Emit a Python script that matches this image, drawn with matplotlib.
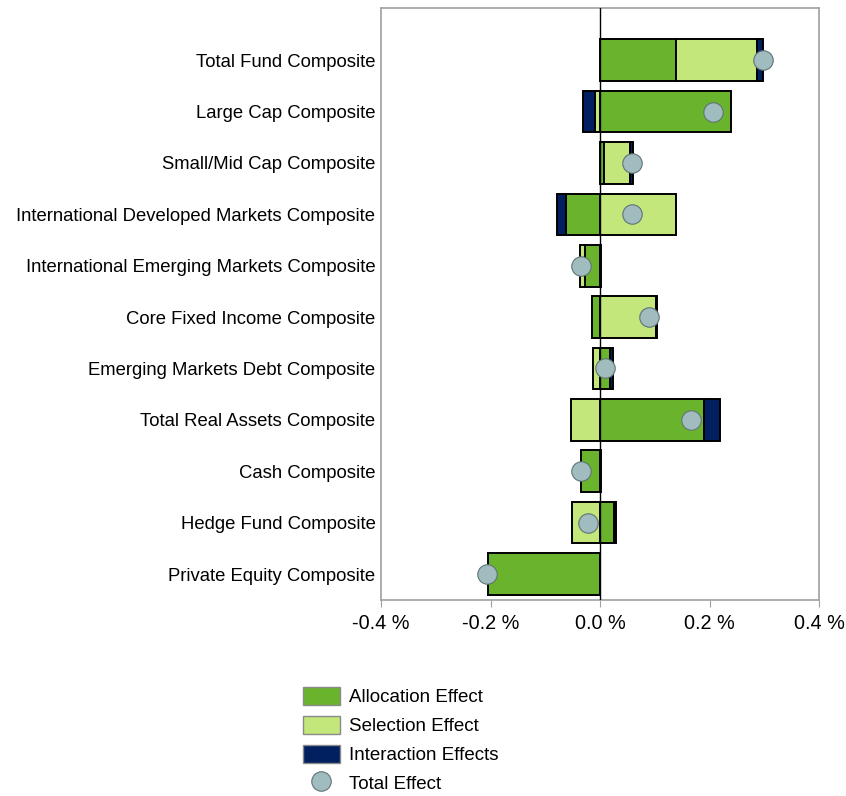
import matplotlib.pyplot as plt
import numpy as np

plt.rcParams['font.family'] = ['Liberation Sans', 'DejaVu Sans']

kategorie = ['Total Fund Composite', 'Large Cap Composite', 'Small/Mid Cap Composite',
             'International Developed Markets Composite',
             'International Emerging Markets Composite', 'Core Fixed Income Composite',
             'Emerging Markets Debt Composite', 'Total Real Assets Composite',
             'Cash Composite', 'Hedge Fund Composite', 'Private Equity Composite']
alokacja = [0.138, 0.239, 0.008, -0.062, -0.027, -0.015, 0.019, 0.190, -0.035, 0.026, -0.205]
selekcja = [0.149, -0.010, 0.047, 0.138, -0.010, 0.103, -0.012, -0.053, 0.0, -0.052, 0.0]
interakcja = [0.011, -0.021, 0.005, -0.016, 0.002, 0.002, 0.004, 0.029, 0.002, 0.004, 0.0]
total = [0.297, 0.207, 0.058, 0.058, -0.034, 0.089, 0.010, 0.166, -0.035, -0.022, -0.206]

kolory = ['#6ab42d', '#c3e77a', '#00205f']
nazwy = ['Allocation Effect', 'Selection Effect', 'Interaction Effects']

fig = plt.figure(figsize=(8.46, 7.96), dpi=100)
ax = fig.add_axes([381 / 846, 1 - 600 / 796, 438 / 846, 592 / 796])

y = np.arange(len(kategorie))
pos = np.zeros(len(kategorie))
neg = np.zeros(len(kategorie))
uchwyty = []
for vals, kol, naz in zip([alokacja, selekcja, interakcja], kolory, nazwy):
    vals = np.array(vals)
    left = np.where(vals >= 0, pos, neg)
    b = ax.barh(y, vals, left=left, height=0.81, color=kol, edgecolor='black',
                linewidth=1.4, label=naz, zorder=2)
    uchwyty.append(b)
    pos = pos + np.where(vals > 0, vals, 0)
    neg = neg + np.where(vals < 0, vals, 0)

ax.axvline(0, color='black', linewidth=1, zorder=3)
kropki, = ax.plot(total, y, 'o', markersize=14, markerfacecolor='#a1bcbf',
                  markeredgecolor='#5f7475', markeredgewidth=0.8, linestyle='none',
                  label='Total Effect', zorder=4)
uchwyty.append(kropki)

ax.set_xlim(-0.4, 0.4)
ax.set_ylim(10.506, -1.016)
ax.set_yticks(y)
ax.set_yticklabels(kategorie, fontsize=13.3)
ax.tick_params(axis='y', length=0, pad=4)
ax.set_xticks([-0.4, -0.2, 0.0, 0.2, 0.4])
ax.set_xticklabels(['-0.4 %', '-0.2 %', '0.0 %', '0.2 %', '0.4 %'], fontsize=14.3)
ax.tick_params(axis='x', length=5, color='#a0a0a0', pad=5)
for s in ax.spines.values():
    s.set_color('#a0a0a0')
    s.set_linewidth(1.2)

leg = fig.legend(uchwyty, nazwy + ['Total Effect'], loc='upper left',
                 bbox_to_anchor=(295 / 846, 1 - 679 / 796),
                 frameon=False, fontsize=13.5, handlelength=2.0, handleheight=1.15,
                 labelspacing=0.5, handletextpad=0.5, borderaxespad=0)
for p in leg.legend_handles[:3]:
    p.set_edgecolor('#8a8a8a')
    p.set_linewidth(1.0)

fig.savefig('out.png', dpi=100)
